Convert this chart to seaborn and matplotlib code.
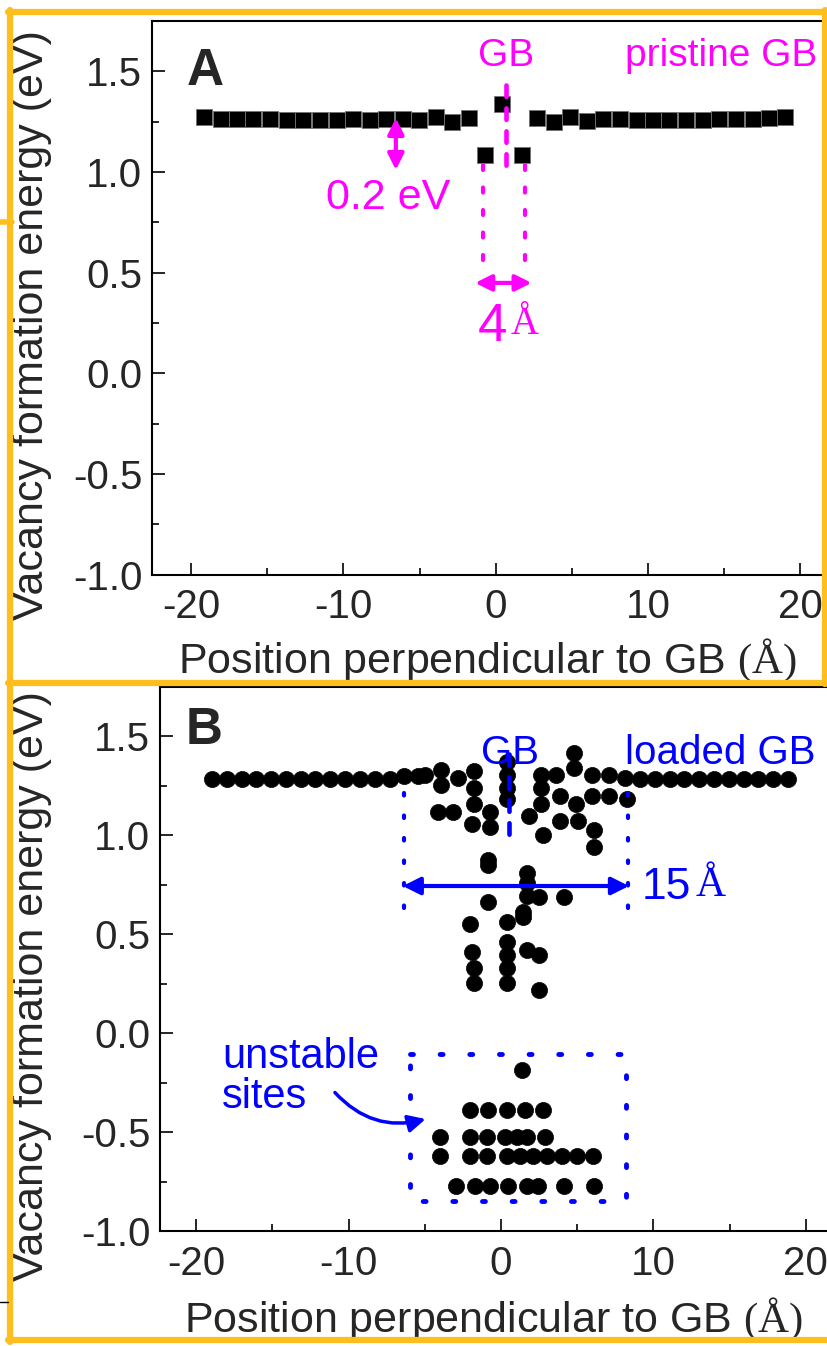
import numpy as np
import pandas as pd
import seaborn as sns
import matplotlib.pyplot as plt
from matplotlib.lines import Line2D

# Panel A: pristine GB (square markers)
pristine_x = [-19.13, -18.06, -16.99, -15.91, -14.84, -13.72, -12.65, -11.57,
              -10.45, -9.38, -8.25, -7.18, -6.11, -5.03, -3.95, -2.87, -1.76,
              -0.71, 0.43, 1.70,
              2.73, 3.80, 4.87, 5.99, 7.07, 8.14, 9.26, 10.33, 11.40, 12.47,
              13.60, 14.67, 15.79, 16.87, 17.94, 19.01]
pristine_y = [1.275, 1.265, 1.262, 1.262, 1.262, 1.260, 1.260, 1.260,
              1.260, 1.262, 1.260, 1.262, 1.265, 1.258, 1.275, 1.250, 1.270,
              1.086, 1.338, 1.086,
              1.270, 1.250, 1.275, 1.255, 1.262, 1.262, 1.260, 1.260, 1.260, 1.260,
              1.260, 1.262, 1.262, 1.265, 1.268, 1.275]

# Panel B: loaded GB (circle markers)
row_left_x = [-18.98, -18.0, -17.01, -16.07, -15.11, -14.1, -13.14, -12.2,
              -11.22, -10.24, -9.25, -8.27, -7.28, -6.36, -5.43]
row_left_y = [1.285, 1.285, 1.285, 1.285, 1.285, 1.285, 1.285, 1.285,
              1.285, 1.285, 1.285, 1.285, 1.285, 1.298, 1.298]
row_right_x = [18.83, 17.86, 16.89, 15.92, 14.95, 13.98, 13.01, 12.04, 11.07,
               10.1, 9.13]
row_right_y = [1.285, 1.285, 1.285, 1.285, 1.285, 1.285, 1.285, 1.285, 1.285,
               1.285, 1.285]
core_x = [-4.99, -3.92, -3.92, -4.15, -2.85, -3.12, -1.78, -1.78, -1.78, -1.92,
          -0.71, -0.71, 0.36, 0.36, 0.36, 0.36, -0.84, -0.84,
          1.70, 1.70, 1.70, 1.43, 2.64, 2.64, 2.64, 1.84, 2.78,
          3.58, 3.85, 3.85, 4.78, 4.78, 4.90, 5.05, 5.99, 5.99, 6.10, 6.10,
          7.06, 7.06, 8.13, 8.25, 2.50, 4.11,
          -0.84, -2.05, 0.36, 1.43, -1.92, -1.78, -1.78,
          0.36, 0.36, 0.36, 0.36, 1.70, 2.50, 2.50]
core_y = [1.307, 1.331, 1.257, 1.116, 1.290, 1.116, 1.323, 1.240, 1.158, 1.058,
          1.116, 1.042, 1.373, 1.307, 1.240, 1.182, 0.876, 0.851,
          0.810, 0.760, 0.694, 0.587, 1.307, 1.240, 1.158, 1.100, 1.000,
          1.307, 1.199, 1.075, 1.414, 1.340, 1.158, 1.075, 1.307, 1.199, 1.025, 0.942,
          1.307, 1.199, 1.290, 1.182, 0.686, 0.686,
          0.661, 0.553, 0.562, 0.611, 0.412, 0.329, 0.255,
          0.462, 0.395, 0.329, 0.255, 0.420, 0.395, 0.220]
unstable_x = [1.40,
              -2.03, -0.83, 0.37, 1.57, 2.78,
              -4.0, -2.03, -0.94, 0.26, 1.03, 1.69, 2.89,
              -4.0, -2.03, -0.94, 0.37, 1.25, 2.12, 3.0, 3.98, 4.97, 6.06,
              -2.95, -1.71, -0.72, 0.48, 1.69, 2.45, 4.13, 6.12]
unstable_y = [-0.184,
              -0.386, -0.386, -0.386, -0.386, -0.386,
              -0.523, -0.523, -0.523, -0.523, -0.523, -0.523, -0.523,
              -0.622, -0.622, -0.622, -0.622, -0.622, -0.622, -0.622, -0.622, -0.622, -0.622,
              -0.771, -0.771, -0.771, -0.771, -0.771, -0.771, -0.771, -0.771]

loaded = pd.DataFrame({
    'x': row_left_x + row_right_x + core_x + unstable_x,
    'y': row_left_y + row_right_y + core_y + unstable_y,
})
pristine = pd.DataFrame({'x': pristine_x, 'y': pristine_y})

y_ticks = [-1.0, -0.5, 0.0, 0.5, 1.0, 1.5]
x_ticks = [-20, -10, 0, 10, 20]

sns.set_style('ticks')
plt.rcParams['font.family'] = ['Liberation Sans', 'DejaVu Sans']
plt.rcParams['mathtext.fontset'] = 'custom'
plt.rcParams['mathtext.rm'] = 'Liberation Serif'
plt.rcParams['axes.unicode_minus'] = False

MAG = '#FF00FF'
BLUE = '#0000FF'
ORANGE = '#FEBE1E'

W, H = 828, 1346
fig = plt.figure(figsize=(W / 100, H / 100), dpi=100)


def px_box(left, top, right, bottom):
    return [left / W, 1 - bottom / H, (right - left) / W, (bottom - top) / H]


def style_axes(ax, ylim, xlim, xlab_y, ylab_x):
    ax.set_xlim(*xlim)
    ax.set_ylim(*ylim)
    ax.set_xticks(x_ticks)
    ax.set_xticks(np.arange(-20, 21, 5), minor=True)
    ax.set_yticks(y_ticks)
    ax.set_yticks(np.arange(-1.0, 1.76, 0.25), minor=True)
    ax.set_yticklabels([f'{t:.1f}' for t in y_ticks])
    ax.tick_params(which='both', direction='in', width=1.4, labelsize=29)
    ax.tick_params(which='major', length=9)
    ax.tick_params(axis='x', which='major', pad=10)
    ax.tick_params(axis='y', which='major', pad=7)
    ax.tick_params(which='minor', length=5)
    ax.tick_params(axis='y', which='both', right=False)
    for s in ax.spines.values():
        s.set_linewidth(1.5)
        s.set_color('black')
    ax.set_xlabel(r'Position perpendicular to GB $\mathrm{(Å)}$', fontsize=31)
    ax.set_ylabel('Vacancy formation energy (eV)', fontsize=31)
    ax.xaxis.set_label_coords(0.487, xlab_y)
    ax.yaxis.set_label_coords(ylab_x, 0.45)


# ---------------- Panel A ----------------
axA = fig.add_axes(px_box(152, 21, 840, 574.6))
sns.scatterplot(data=pristine, x='x', y='y', ax=axA, marker='s', s=120,
                color='black', edgecolor='0.45', linewidth=0.6, zorder=3)
style_axes(axA, (-1.0, 1.75), (-22.57, 22.6), -0.112, -0.145)
axA.text(-20.3, 1.5, 'A', fontsize=37, fontweight='bold', va='center',
         ha='left')
axA.text(0.7, 1.575, 'GB', color=MAG, fontsize=28, ha='center', va='center')
axA.text(14.8, 1.575, 'pristine GB', color=MAG, fontsize=28, ha='center',
         va='center')
axA.plot([0.7, 0.7], [1.43, 1.03], color=MAG, lw=3.3,
         linestyle=(0, (2.5, 2.5)), dash_capstyle='round', zorder=4)
for xv in (-0.83, 1.9):
    axA.plot([xv, xv], [1.035, 0.555], color=MAG, lw=3,
             linestyle=(0, (1.2, 4.2)), dash_capstyle='round')
axA.annotate('', xy=(-1.35, 0.449), xytext=(2.35, 0.449),
             arrowprops=dict(arrowstyle='<|-|>', color=MAG, lw=3,
                             mutation_scale=24, shrinkA=0, shrinkB=0))
axA.text(0.75, 0.23, '4', color=MAG, fontsize=38, ha='right', va='center')
axA.text(0.95, 0.245, r'$\mathrm{Å}$', color=MAG, fontsize=28, ha='left',
         va='center')
axA.annotate('', xy=(-6.56, 1.268), xytext=(-6.56, 1.01),
             arrowprops=dict(arrowstyle='<|-|>', color=MAG, lw=3,
                             mutation_scale=24, shrinkA=0, shrinkB=0))
axA.text(-7.05, 0.87, '0.2 eV', color=MAG, fontsize=31, ha='center',
         va='center')

# ---------------- Panel B ----------------
axB = fig.add_axes(px_box(160, 687, 845.4, 1231))
sns.scatterplot(data=loaded, x='x', y='y', ax=axB, marker='o', s=135,
                color='black', edgecolor='black', linewidth=0.5, zorder=3)
style_axes(axB, (-1.0, 1.70), (-22.38, 22.6), -0.12, -0.157)
axB.text(-20.7, 1.53, 'B', fontsize=37, fontweight='bold', va='center',
         ha='left')
axB.text(0.6, 1.414, 'GB', color=BLUE, fontsize=29, ha='center', va='center')
axB.text(14.4, 1.414, 'loaded GB', color=BLUE, fontsize=29, ha='center',
         va='center')
axB.plot([0.5, 0.5], [1.41, 1.0], color=BLUE, lw=3.3,
         linestyle=(0, (2.5, 2.5)), dash_capstyle='round', zorder=4)
for xv in (-6.38, 8.32):
    axB.plot([xv, xv], [1.215, 0.6], color=BLUE, lw=3,
             linestyle=(0, (0.6, 4.8)), dash_capstyle='round', zorder=4)
axB.annotate('', xy=(-6.45, 0.744), xytext=(8.4, 0.744),
             arrowprops=dict(arrowstyle='<|-|>', color=BLUE, lw=3,
                             mutation_scale=26, shrinkA=0, shrinkB=0),
             zorder=5)
axB.text(9.2, 0.735, '15', color=BLUE, fontsize=32, ha='left', va='center')
axB.text(12.7, 0.75, r'$\mathrm{Å}$', color=BLUE, fontsize=30, ha='left',
         va='center')
box_x = [-5.97, 8.2, 8.2, -5.97, -5.97]
box_y = [-0.104, -0.104, -0.85, -0.85, -0.104]
axB.plot(box_x, box_y, color=BLUE, lw=3.5, linestyle=(0, (0.6, 5.5)),
         dash_capstyle='round', zorder=2)
axB.text(-18.3, -0.02, 'unstable\nsites', color=BLUE, fontsize=30,
         ha='left', va='top', linespacing=1.0)
axB.annotate('', xy=(-4.95, -0.434), xytext=(-10.9, -0.30),
             arrowprops=dict(arrowstyle='-|>', color=BLUE, lw=2.5,
                             mutation_scale=26, shrinkA=0, shrinkB=0,
                             connectionstyle='arc3,rad=0.3'))


# ---------------- orange frames and stray fragments ----------------
def fig_line(xs, ys, **kw):
    fig.add_artist(Line2D([x / W for x in xs], [1 - y / H for y in ys],
                          transform=fig.transFigure, **kw))


fig_line([8, 828], [12, 12], color=ORANGE, lw=4.5)
fig_line([10, 10], [10, 1342], color=ORANGE, lw=4.5)
fig_line([8, 828], [683, 683], color=ORANGE, lw=4.5)
fig_line([8, 828], [1340, 1340], color=ORANGE, lw=4.5)
fig_line([825.5, 825.5], [10, 684], color=ORANGE, lw=4.5)
fig_line([0, 12], [222, 222], color=ORANGE, lw=4)
fig_line([0, 8], [1302, 1302], color='black', lw=1)

fig.savefig('out.png', dpi=100)
